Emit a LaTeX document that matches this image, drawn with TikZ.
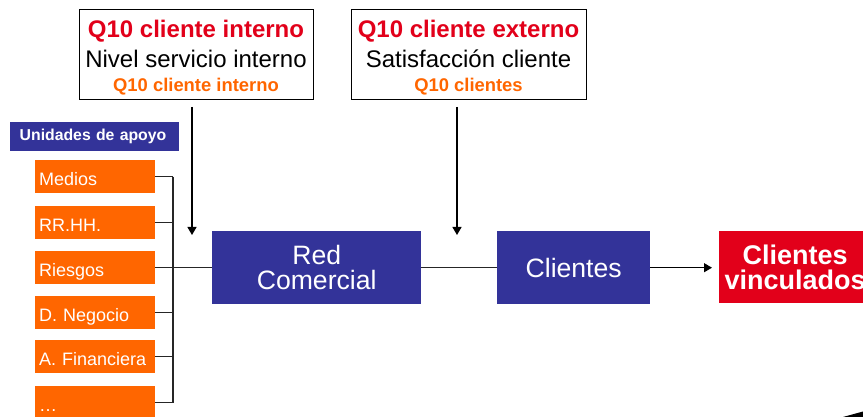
\documentclass[tikz,border=0pt]{standalone}
\usepackage{fontspec}
\setmainfont{Liberation Sans}
\usetikzlibrary{arrows.meta}
\definecolor{dblue}{HTML}{333399}
\definecolor{orng}{HTML}{FF6600}
\definecolor{qred}{HTML}{E2001A}
\begin{document}
\begin{tikzpicture}[x=1pt,y=-1pt,
  topbox/.style={draw=black, line width=1pt, fill=white, inner sep=0pt, anchor=north west, minimum width=234pt, minimum height=90pt},
  redtxt/.style={anchor=base, text=qred, font=\fontsize{24}{24}\selectfont\bfseries},
  blktxt/.style={anchor=base, text=black, font=\fontsize{24}{24}\selectfont},
  orgtxt/.style={anchor=base, text=orng, font=\fontsize{18.4}{18}\selectfont\bfseries},
  unit/.style={fill=orng, text=white, anchor=north west, minimum width=120pt, minimum height=33pt, inner sep=0pt, text width=112pt, align=left, font=\fontsize{18}{18}\selectfont, text height=20pt, text depth=3pt},
  bluebox/.style={fill=dblue, text=white, anchor=north west, minimum width=209pt, minimum height=73pt, inner sep=0pt, align=center, font=\fontsize{26.6}{25}\selectfont},
  conn/.style={draw=black!85, line width=1.1pt},
  arr/.style={draw=black, line width=1.2pt, -{Triangle[length=8pt,width=9pt]}}
]
\useasboundingbox (0,0) rectangle (863,417);
\fill[white] (0,0) rectangle (863,417);

% top boxes
\node[topbox] (qi) at (79,9) {};
\node[redtxt] (qi1) at (196,38) {Q10 cliente interno};
\node[blktxt] (qi2) at (196,68) {Nivel servicio interno};
\node[orgtxt] (qi3) at (196,92) {Q10 cliente interno};

\node[topbox, minimum width=235pt] (qe) at (351,9) {};
\node[redtxt] (qe1) at (468.5,38) {Q10 cliente externo};
\node[blktxt] (qe2) at (468.5,67.5) {Satisfacción cliente};
\node[orgtxt] (qe3) at (468.5,92) {Q10 clientes};

% arrows down
\coordinate (a1s) at (192,107);
\coordinate (a1e) at (192,235);
\coordinate (a2s) at (457,107);
\coordinate (a2e) at (457,235);
\draw[arr] (a1s) -- (a1e);
\draw[arr] (a2s) -- (a2e);

% unidades de apoyo
\node[fill=dblue, text=white, anchor=north west, minimum width=169pt, minimum height=29pt, inner sep=0pt, text width=150pt, align=left, font=\fontsize{15.8}{16}\selectfont\bfseries] (uda) at (10,122) {Unidades de apoyo};

% units
\node[unit] (u1) at (35,160) {Medios};
\node[unit] (u2) at (35,206) {RR.HH.};
\node[unit] (u3) at (35,251) {Riesgos};
\node[unit] (u4) at (35,296) {D. Negocio};
\node[unit] (u5) at (35,340) {A. Financiera};
\node[unit] (u6) at (35,386) {…};

% bracket
\coordinate (bt) at (173,176.5);
\coordinate (bb) at (173,402.5);
\draw[conn] (u1.east) -- (u1.east -| bt);
\draw[conn] (u2.east) -- (u2.east -| bt);
\draw[conn] (u4.east) -- (u4.east -| bt);
\draw[conn] (u5.east) -- (u5.east -| bt);
\draw[conn] (u6.east) -- (u6.east -| bb);
\draw[conn] (u1.east -| bt) -- (u6.east -| bb);

% main row
\node[bluebox] (rc) at (212,231) {Red\\Comercial};
\node[bluebox, minimum width=153pt] (cl) at (497,231) {Clientes};
\node[fill=qred, text=white, anchor=north west, minimum width=152pt, minimum height=72pt, inner sep=0pt, align=center, font=\fontsize{27}{25}\selectfont\bfseries] (cv) at (719,231) {Clientes\\vinculados};

\draw[conn] (u3.east) -- (u3.east -| rc.west);
\draw[conn] (rc.east) -- (cl.west);
\draw[arr, shorten >=7pt] (cl.east) -- (cl.east -| cv.west);

% small dark wedge in the corner
\fill[black] (843,417) -- (863,411.5) -- (863,417) -- cycle;
\end{tikzpicture}
\end{document}
